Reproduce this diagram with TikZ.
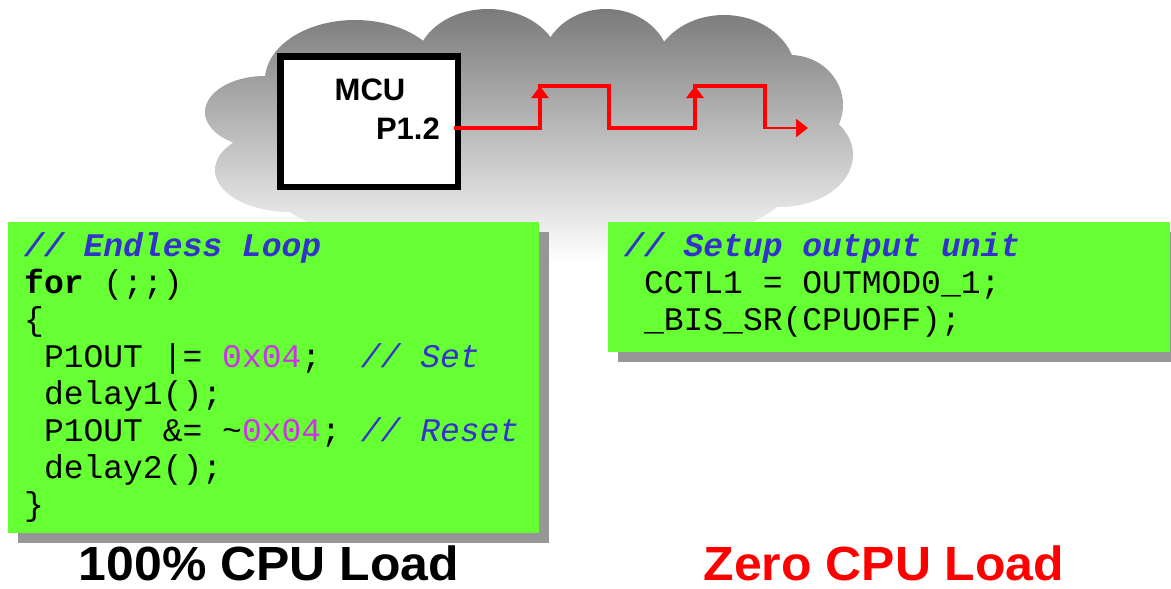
\documentclass[tikz,border=0pt]{standalone}
\usepackage{fontspec}
\setmainfont{Liberation Sans}
\newfontfamily\codefont{Liberation Mono}
\newfontfamily\capfont[FakeStretch=1.04]{Liberation Sans}
\usetikzlibrary{arrows.meta}
\frenchspacing

\definecolor{codegreen}{RGB}{102,255,51}
\definecolor{boxshadow}{RGB}{150,150,150}
\definecolor{cmtblue}{RGB}{51,51,204}
\definecolor{numviolet}{RGB}{204,51,230}
\definecolor{sigred}{RGB}{255,0,0}

\begin{document}
\begin{tikzpicture}[x=1pt,y=-1pt,
  code/.style={anchor=base west, inner sep=0pt, font=\codefont\fontsize{33}{37}\selectfont},
  panel/.style={fill=codegreen, draw=none, inner sep=0pt, anchor=north west},
  caption/.style={anchor=base, inner sep=0pt, font=\capfont\bfseries\fontsize{48}{50}\selectfont},
  chip/.style={draw=black, line width=6.5pt, fill=white, inner sep=0pt,
               minimum width=177.5pt, minimum height=130.5pt},
  chiptext/.style={inner sep=0pt, font=\bfseries\fontsize{31}{31}\selectfont},
  sig/.style={draw=sigred, line width=4.5pt, line join=miter},
  risetip/.style={-{Triangle[length=12pt,width=17pt]}},
  endtip/.style={-{Triangle[length=12pt,width=18pt]}}
]
\useasboundingbox (0,0) rectangle (1171,589);

% cloud: union of ellipses, one common vertical gradient
\foreach \cx/\cy/\rx/\ry in {355/80/90/60, 488/65/72/56, 606/65/64/56,
    724/75/72/60, 790/105/53/50, 780/155/73/52, 265/112/60/36,
    290/170/75/42, 530/170/270/92} {
  \begin{scope}
    \clip (\cx,\cy) ellipse [x radius=\rx, y radius=\ry];
    \shade[top color=black!52, bottom color=white] (200,9) rectangle (860,262);
  \end{scope}
}

% microcontroller
\node[chip] (mcu) at (369,121.5) {};
\node[chiptext, anchor=base] (mculabel) at (370,100) {MCU};
\node[chiptext, anchor=base east] (pinlabel) at (440,139) {P1.2};

% output signal on P1.2
\coordinate (pin) at (454,128);
\coordinate (out) at (808,128);
\draw[sig] (pin) -- (540,128) -- (540,86) -- (609,86) -- (609,128)
  -- (695,128) -- (695,86) -- (765,86) -- (765,129);
\draw[sig, risetip] (540,128) -- (540,86);
\draw[sig, risetip] (695,128) -- (695,86);
\draw[draw=sigred, line width=2.5pt, endtip] (763,128) -- (out);

% code panels with shadows
\node[panel, minimum width=531pt, minimum height=311pt] (loopbox) at (8,222) {};
\node[panel, minimum width=562pt, minimum height=130pt] (timerbox) at (608,222) {};
\fill[boxshadow] ([shift={(10,10)}]loopbox.north west) rectangle ([shift={(10,10)}]loopbox.south east);
\fill[boxshadow] ([shift={(10,10)}]timerbox.north west) rectangle ([shift={(10,10)}]timerbox.south east);
\fill[codegreen] (loopbox.north west) rectangle (loopbox.south east);
\fill[codegreen] (timerbox.north west) rectangle (timerbox.south east);

% software loop
\node[code] (c1) at (24,256) {\textcolor{cmtblue}{\bfseries\itshape // Endless Loop}};
\node[code] (c2) at (24,293) {\textbf{for} (;;)};
\node[code] (c3) at (24,330) {\{};
\node[code] (c4) at (43.8,367) {P1OUT |= \textcolor{numviolet}{0x04};\ \ \textcolor{cmtblue}{\itshape // Set}};
\node[code] (c5) at (43.8,404) {delay1();};
\node[code] (c6) at (43.8,441) {P1OUT \&= \textasciitilde\textcolor{numviolet}{0x04}; \textcolor{cmtblue}{\itshape // Reset}};
\node[code] (c7) at (43.8,478) {delay2();};
\node[code] (c8) at (24,515) {\}};

% hardware timer setup
\node[code] (s1) at (624,256) {\textcolor{cmtblue}{\bfseries\itshape // Setup output unit}};
\node[code] (s2) at (643.8,293) {CCTL1 = OUTMOD0\_1;};
\node[code] (s3) at (643.8,330.5) {\_BIS\_SR(CPUOFF);};

% captions
\node[caption] (loadfull) at (269,580) {100\% CPU Load};
\node[caption, text=sigred] (loadzero) at (884,580) {Zero CPU Load};
\end{tikzpicture}
\end{document}
